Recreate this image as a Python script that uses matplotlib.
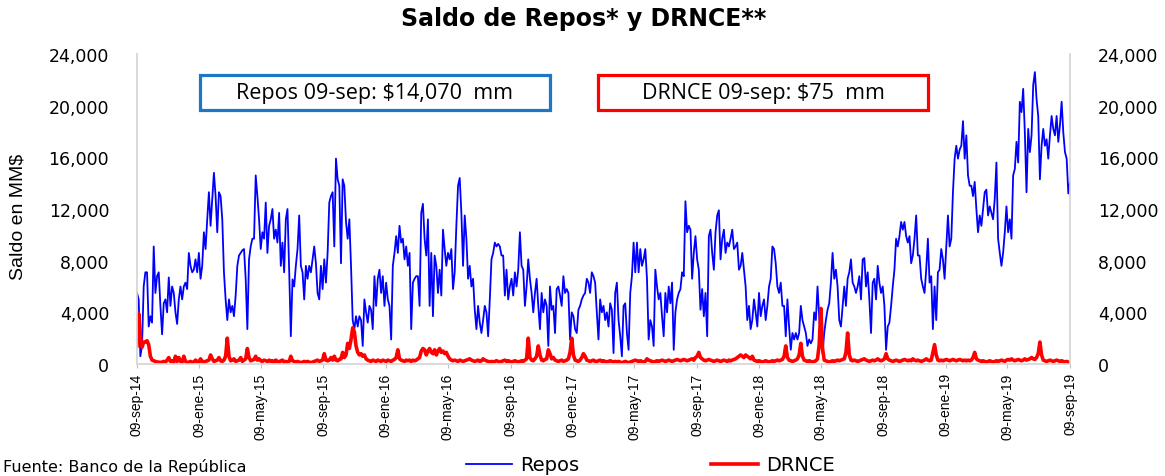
import matplotlib as mpl
mpl.use('Agg')
import matplotlib.pyplot as plt
from matplotlib.patches import Rectangle
from matplotlib.lines import Line2D
import matplotlib.ticker as mticker
import numpy as np
import pandas as pd

# Saldo de Repos (MM$), lectura del grafico, muestreo uniforme 09-sep-14 -> 09-sep-19
repos_14_15 = [5500, 5000, 600, 1400, 6000, 7100, 7100, 2900, 3700, 3200,
               9100, 5500, 6800, 7100, 4500, 2300, 4700, 5000, 4000, 6700,
               4500, 6000, 5500, 4000, 3100, 5000, 6000, 5000, 6000, 6300,
               5800, 8600, 7600, 7100, 7300, 8100, 7100, 8600, 6600, 7600,
               10200, 8900, 11200, 13300, 10700, 12800, 14800, 13000, 10200, 13300,
               13000, 11200, 7100, 5000, 3400, 5000, 4000, 4500, 3700, 5300,
               7600, 8400, 8600, 8800, 8900, 6600, 2700, 8100, 9100, 9700,
               9700, 14600, 13000, 11200, 8900, 10200, 9700, 12500, 8600, 10700,
               11200, 12000, 9700, 10400, 9400, 11700, 7600, 9400, 7100, 11200, 12000]
repos_15_16 = [7300, 2150, 6550, 6000, 7600, 8900, 11500, 7600, 7100, 5000,
               7600, 6600, 7600, 7100, 8100, 9100, 7800, 5500, 5000, 7600,
               5800, 8100, 6300, 8600, 12500, 13000, 13300, 9100, 15900, 14300,
               13800, 7800, 14300, 13800, 11000, 9700, 11200, 7600, 3400, 2700,
               3700, 2900, 3700, 3400, 1400, 5000, 4000, 3200, 4500, 4200,
               2700, 6800, 4500, 6600, 7300, 5500, 6800, 4500, 6300, 5000,
               4500, 1900, 7600, 8600, 9900, 8600, 10700, 9400, 9700, 8100,
               9100, 7600, 8600, 2700, 6300, 6600, 6800, 6800, 4500, 11700,
               12400, 9700, 8400, 11200, 4500, 8600, 3700, 8400, 7600, 5500,
               7300]
repos_16_17 = [5300, 10400, 8900, 7600, 8600, 8100, 8900, 5800, 7100, 10700,
               13800, 14400, 11700, 7600, 11500, 9700, 6600, 7600, 6000, 6600,
               4200, 2700, 4500, 3200, 2400, 3400, 4500, 4000, 2150, 5000,
               8100, 8600, 9400, 9100, 9300, 9100, 8400, 8400, 5300, 7300,
               5000, 6000, 6600, 5300, 7100, 6000, 7300, 10200, 7600, 7300,
               4500, 6000, 8100, 6600, 5500, 4000, 5500, 6600, 4500, 2700,
               5500, 4000, 5000, 4500, 1400, 6000, 4200, 4500, 2400, 5800,
               6000, 5300, 4500, 6800, 5500, 5800, 5500, 1900, 4000, 3700,
               2700, 2400, 4200, 4500, 5000, 5300, 5500, 6600, 6300, 5500,
               7100, 6800, 6300]
repos_17_18 = [4000, 1900, 5000, 4000, 4500, 3400, 4000, 2900, 4700, 4200,
               850, 5500, 6300, 3400, 2150, 600, 4500, 4700, 2400, 1100,
               5500, 6800, 9400, 7100, 9400, 7100, 8900, 7600, 8100, 8900,
               6600, 1900, 3400, 2900, 1400, 7300, 6000, 5000, 5500, 3700,
               2150, 5500, 4000, 6000, 4700, 6300, 1100, 4000, 5000, 5500,
               5800, 7100, 6800, 12600, 10200, 10700, 10400, 6600, 8600, 9900,
               8100, 7300, 4200, 5800, 3700, 5500, 2150, 9900, 10400, 8600,
               7300, 10200, 11500, 11900, 8100, 9700, 10400, 8600, 9400, 9100,
               9700, 10400, 8900, 9100, 9400, 7300, 7600, 8600, 7300, 6000,
               3400, 4500, 2700]
repos_18_19 = [3400, 5000, 4000, 2900, 5500, 3700, 4500, 5000, 3400, 4500,
               6000, 6600, 9100, 8900, 7800, 6000, 5500, 6300, 4500, 4500,
               2150, 5000, 2900, 1100, 2400, 1900, 2400, 1900, 2400, 4500,
               3400, 2900, 2400, 1400, 1900, 1600, 1900, 4000, 3400, 6000,
               3700, 1900, 850, 2400, 3400, 4200, 4700, 6300, 8600, 6600,
               7300, 6000, 3400, 2900, 4500, 6000, 4500, 6600, 7100, 8100,
               6300, 6000, 5500, 6000, 6800, 5000, 8100, 8200, 6000, 7100,
               5000, 2400, 6300, 6600, 5000, 7600, 6300, 5500, 6000, 4500,
               1100, 2900, 3200, 4500, 6000, 7300, 9700, 9100, 9900, 11000,
               10400, 11000, 9900]
repos_19 = [9400, 9900, 7800, 8400, 9700, 11500, 8400, 8400, 6600, 6000,
            5500, 7300, 9700, 6300, 6800, 2700, 6000, 3400, 7100, 7300,
            8900, 8100, 6600, 9100, 11500, 9100, 9700, 13300, 15900, 16900,
            15900, 16600, 16900, 18800, 15900, 17700, 14600, 13800, 13800, 13000,
            14100, 12000, 10200, 11500, 10700, 12000, 13300, 13500, 11500, 12200,
            11700, 11200, 12800, 15600, 9700, 8600, 7600, 8600, 10200, 12200,
            10200, 11200, 9700, 14600, 15100, 17200, 15600, 20300, 19500, 21300,
            17900, 13300, 18200, 16400, 17700, 21600, 22600, 20500, 19200, 14300,
            16900, 18200, 16900, 17400, 15900, 17700, 19200, 18200, 17700, 19200,
            17200, 18500, 20300, 17900, 16400, 15900, 13200, 14070]

# Saldo DRNCE (MM$)
drnce_14_15 = [1400, 3900, 2200, 1300, 1700, 1700, 1800, 1500, 600, 300,
               250, 200, 150, 150, 100, 150, 200, 150, 300, 500,
               200, 250, 150, 600, 200, 500, 200, 150, 600, 200,
               100, 150, 200, 100, 150, 300, 200, 150, 400, 200,
               150, 200, 250, 300, 700, 400, 200, 250, 300, 500,
               250, 200, 300, 600, 2000, 600, 250, 300, 400, 200,
               250, 300, 500, 200, 300, 400, 1200, 500, 250, 300,
               350, 600, 300, 400, 250, 200, 300, 250, 200, 300,
               200, 250, 150, 300, 200, 150, 250, 300, 150, 200, 150]
drnce_15_16 = [200, 600, 250, 200, 150, 200, 150, 100, 150, 200,
               150, 200, 150, 100, 150, 200, 250, 300, 200, 250,
               300, 800, 300, 250, 300, 500, 300, 600, 300, 250,
               350, 400, 900, 500, 700, 1600, 1200, 1900, 2800, 2500,
               1400, 900, 700, 800, 600, 700, 400, 300, 250, 200,
               300, 250, 200, 300, 250, 200, 300, 250, 200, 300,
               250, 200, 300, 350, 500, 1100, 400, 300, 250, 200,
               300, 250, 300, 200, 300, 250, 300, 400, 500, 1000,
               1200, 1100, 700, 1000, 1200, 900, 800, 1100, 700, 1000,
               1200]
drnce_16_17 = [900, 1000, 800, 900, 600, 400, 300, 250, 300, 250,
               200, 300, 250, 200, 250, 300, 350, 400, 300, 250,
               200, 250, 300, 200, 250, 400, 300, 250, 200, 150,
               200, 150, 200, 250, 200, 150, 200, 250, 300, 200,
               250, 200, 150, 200, 250, 200, 150, 200, 250, 200,
               300, 400, 2000, 500, 300, 250, 400, 600, 1400, 700,
               300, 250, 350, 400, 1100, 800, 400, 500, 300, 250,
               200, 250, 300, 200, 250, 300, 400, 900, 2000, 700,
               300, 250, 200, 300, 500, 800, 600, 300, 250, 200,
               250, 300, 200]
drnce_17_18 = [200, 250, 300, 200, 250, 200, 150, 200, 250, 200,
               150, 200, 150, 200, 150, 100, 150, 200, 150, 100,
               150, 200, 250, 300, 250, 200, 250, 200, 150, 200,
               400, 300, 250, 200, 150, 200, 250, 200, 250, 300,
               250, 200, 250, 300, 250, 200, 250, 300, 350, 300,
               250, 300, 350, 300, 250, 300, 350, 400, 300, 500,
               600, 900, 500, 400, 300, 250, 300, 350, 300, 250,
               200, 250, 300, 250, 200, 250, 300, 250, 200, 300,
               250, 300, 350, 400, 500, 600, 700, 600, 500, 700,
               600, 500, 400]
drnce_18_19 = [600, 300, 250, 200, 250, 200, 150, 200, 250, 200,
               150, 200, 250, 200, 250, 300, 250, 300, 350, 600,
               1400, 500, 300, 250, 200, 250, 300, 400, 700, 1600,
               600, 300, 250, 200, 250, 200, 150, 200, 250, 400,
               1500, 4300, 1200, 300, 250, 200, 150, 200, 250, 200,
               250, 300, 250, 300, 350, 400, 900, 2400, 700, 300,
               250, 300, 250, 200, 250, 300, 350, 400, 300, 250,
               200, 250, 300, 250, 300, 400, 300, 250, 300, 400,
               800, 400, 300, 250, 200, 250, 300, 250, 200, 250,
               300, 350, 300]
drnce_19 = [250, 300, 250, 400, 300, 250, 300, 250, 200, 250,
            300, 400, 300, 250, 300, 900, 1500, 700, 300, 250,
            300, 250, 300, 350, 300, 250, 300, 350, 300, 250,
            300, 350, 300, 250, 300, 250, 300, 250, 300, 500,
            900, 400, 300, 250, 200, 250, 200, 150, 200, 250,
            200, 150, 200, 250, 200, 250, 300, 250, 200, 300,
            350, 300, 400, 300, 250, 300, 350, 300, 250, 300,
            400, 300, 350, 400, 500, 400, 350, 500, 800, 1700,
            700, 300, 250, 200, 250, 300, 250, 200, 250, 300,
            250, 200, 250, 200, 150, 200, 150, 75]

tick_dates = ['2014-09-09', '2015-01-09', '2015-05-09', '2015-09-09',
              '2016-01-09', '2016-05-09', '2016-09-09', '2017-01-09',
              '2017-05-09', '2017-09-09', '2018-01-09', '2018-05-09',
              '2018-09-09', '2019-01-09', '2019-05-09', '2019-09-09']
tick_labels = ['09-sep-14', '09-ene-15', '09-may-15', '09-sep-15',
               '09-ene-16', '09-may-16', '09-sep-16', '09-ene-17',
               '09-may-17', '09-sep-17', '09-ene-18', '09-may-18',
               '09-sep-18', '09-ene-19', '09-may-19', '09-sep-19']

repos = np.array(repos_14_15 + repos_15_16 + repos_16_17 + repos_17_18 + repos_18_19 + repos_19)
drnce = np.array(drnce_14_15 + drnce_15_16 + drnce_16_17 + drnce_17_18 + drnce_18_19 + drnce_19)
fechas = pd.date_range('2014-09-09', '2019-09-09', periods=len(repos))

W, H = 1165, 477
fig = plt.figure(figsize=(W / 100, H / 100), dpi=100)
ax = fig.add_axes([137 / W, 1 - 365 / H, (1070 - 137) / W, (365 - 55) / H])

ax.plot(fechas, repos, color='#0000FF', lw=1.3, zorder=3)
ax.plot(fechas, drnce, color='#FF0000', lw=2.6, zorder=4, solid_joinstyle='round')

ax.set_xlim(fechas[0], fechas[-1])
ax.set_ylim(0, 24000)
yt = np.arange(0, 24001, 4000)
fmt = mticker.FuncFormatter(lambda v, p: '{:,.0f}'.format(v))
ax.set_yticks(yt)
ax.yaxis.set_major_formatter(fmt)
ax.tick_params(axis='y', length=0, pad=20, labelsize=12.5, labelcolor='#000000')
for t in ax.get_yticklabels():
    t.set_family('DejaVu Sans')

ax.set_xticks(pd.to_datetime(tick_dates))
ax.set_xticklabels(tick_labels, rotation=90, fontsize=10, family='Liberation Sans')
ax.tick_params(axis='x', length=3, color='#BFBFBF', pad=3)

for s in ['top']:
    ax.spines[s].set_visible(False)
for s in ['left', 'right', 'bottom']:
    ax.spines[s].set_color('#D9D9D9')
    ax.spines[s].set_linewidth(1.2)

ax2 = ax.twinx()
ax2.set_ylim(0, 24000)
ax2.set_yticks(yt)
ax2.yaxis.set_major_formatter(fmt)
ax2.tick_params(axis='y', length=0, pad=20, labelsize=12.5)
for t in ax2.get_yticklabels():
    t.set_family('DejaVu Sans')
ax2.spines['top'].set_visible(False)
for s in ['left', 'right', 'bottom']:
    ax2.spines[s].set_color('#D9D9D9')
    ax2.spines[s].set_linewidth(1.2)

fig.text(18 / W, 1 - 217 / H, 'Saldo en MM$', rotation=90, ha='center', va='center',
         fontsize=14, family='Liberation Sans')

fig.text(584 / W, 1 - 19 / H, 'Saldo de Repos* y DRNCE**', ha='center', va='center',
         fontsize=17, fontweight='bold', family='DejaVu Sans')

# cuadros de texto
fig.add_artist(Rectangle((200 / W, 1 - 111 / H), 350 / W, 35 / H, transform=fig.transFigure,
                         fill=False, edgecolor='#1C78C6', lw=2.3))
fig.text(375 / W, 1 - 94 / H, 'Repos 09-sep: $14,070  mm', ha='center', va='center',
         fontsize=15.5, family='Open Sans')
fig.add_artist(Rectangle((598 / W, 1 - 111 / H), 330 / W, 35 / H, transform=fig.transFigure,
                         fill=False, edgecolor='#FF0000', lw=2.3))
fig.text(763 / W, 1 - 94 / H, 'DRNCE 09-sep: $75  mm', ha='center', va='center',
         fontsize=15.5, family='Open Sans')

handles = [Line2D([], [], color='#0000FF', lw=1.3), Line2D([], [], color='#FF0000', lw=2.6)]
fig.legend(handles, ['Repos', 'DRNCE'], loc='center', bbox_to_anchor=(650 / W, 1 - 466 / H),
           ncol=2, frameon=False, handlelength=2.4, handletextpad=0.4, columnspacing=6.8,
           borderpad=0.1, prop={'family': 'DejaVu Sans', 'size': 14})

fig.text(3 / W, 1.5 / H, 'Fuente: Banco de la República', ha='left', va='bottom',
         fontsize=11.5, family='DejaVu Sans')

fig.savefig('out.png', dpi=100)
